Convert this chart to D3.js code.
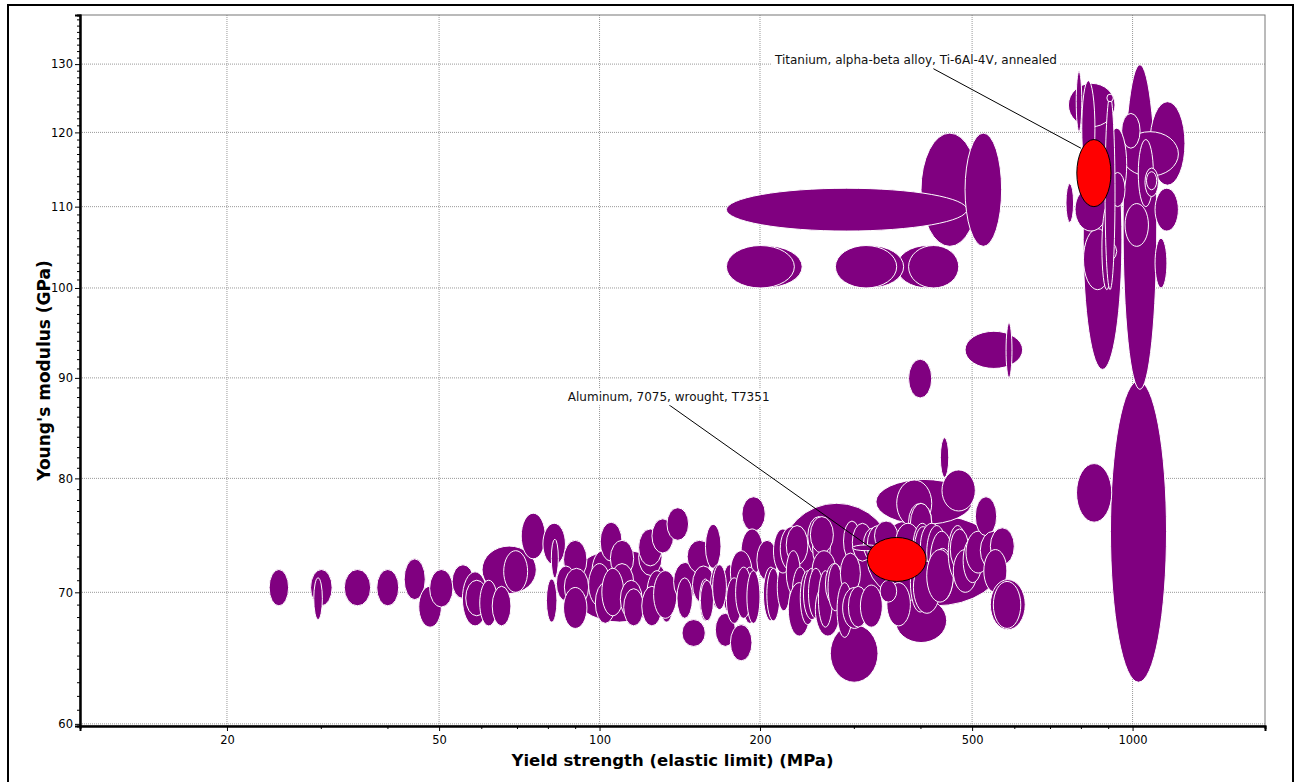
<!DOCTYPE html>
<html>
<head>
<meta charset="utf-8">
<script src="https://cdn.jsdelivr.net/npm/d3@7"></script>
<style>
  body { margin: 0; background: #fff; }
  svg { display: block; }
  text { font-family: "DejaVu Sans", Verdana, sans-serif; }
</style>
</head>
<body>
<div id="chart"></div>
<script>
// each record: [yield low, yield high (MPa), modulus low, modulus high (GPa)]
const aluminumAlloys = [
  [88, 135, 67.6, 73.6], [218, 356, 68.0, 77.7], [318, 572, 68.9, 76.6],
  [330, 500, 75.8, 79.9], [271, 333, 63.0, 67.4], [359, 448, 66.0, 69.5],
  [24.0, 26.1, 68.9, 71.9], [28.7, 31.5, 68.9, 71.9], [29.1, 30.2, 67.8, 71.2],
  [33.2, 37.2, 68.9, 71.9], [38.2, 42.0, 68.9, 71.9], [43.0, 47.1, 69.4, 72.8],
  [45.8, 50.5, 67.2, 70.5], [48.0, 53.1, 68.8, 71.9], [60.2, 76.1, 69.9, 73.9],
  [66.1, 73.3, 70.0, 73.5], [52.9, 58.1, 69.5, 72.3], [55.3, 61.7, 67.3, 71.7],
  [56.1, 61.7, 68.1, 71.0], [59.6, 64.4, 67.3, 71.0], [62.9, 68.2, 67.3, 70.5],
  [71.3, 79.1, 72.8, 76.8], [78.3, 86.3, 72.3, 75.9], [81.2, 83.7, 71.2, 74.5],
  [79.5, 83.2, 67.6, 71.1], [85.6, 94.7, 71.1, 74.4], [83.0, 90.1, 69.3, 72.2],
  [85.9, 95.4, 68.9, 72.0], [85.6, 94.7, 67.1, 70.4], [96.8, 106.3, 70.0, 73.5],
  [100.3, 110.2, 72.6, 76.0], [95.4, 104.8, 68.9, 72.4], [98.2, 107, 67.5, 70.8],
  [104.8, 115.9, 71.3, 74.4], [104.8, 115.9, 69.3, 72.4], [101, 111, 68.1, 72.0],
  [109.4, 120.2, 67.9, 71.0], [111, 121, 67.3, 70.3], [118.4, 131, 71.4, 74.5],
  [118.4, 131, 72.2, 75.4], [125.4, 137.7, 73.3, 76.3], [133.8, 146.9, 74.4, 77.3],
  [122.8, 133.8, 68.2, 71.8], [120, 131, 67.3, 70.5], [129.6, 137.7, 67.6, 71.1],
  [126.3, 139.7, 67.9, 71.8], [137.7, 152.3, 69.3, 72.5], [139.7, 149.4, 67.9, 71.2],
  [142.8, 157.9, 65.7, 67.8], [146, 162.6, 71.6, 74.4], [149.4, 164.3, 69.1, 72.2],
  [154, 162, 67.7, 71.1], [158, 169, 72.0, 75.8], [161.4, 172.3, 68.7, 72.3],
  [164.9, 179.8, 65.7, 68.3], [176, 193.2, 64.6, 67.4], [170, 181, 68.3, 72.3],
  [185, 204.6, 75.2, 78.3], [184.3, 202.8, 71.5, 75.4], [176, 193.2, 69.9, 73.5],
  [185, 198, 67.5, 72.1], [197.3, 215.5, 71.0, 74.4], [203, 216.5, 67.7, 72.1],
  [154.6, 163.6, 67.7, 71.0], [163, 173, 68.6, 72.3], [173, 185, 67.5, 71.2],
  [180, 193, 67.9, 72.1], [189, 200, 67.5, 71.8], [206, 218, 67.7, 72.0],
  [215.5, 228, 68.5, 72.4], [212, 230, 71.6, 75.4], [218.3, 240.7, 71.8, 75.6],
  [224, 246, 72.3, 75.7], [224, 238, 69.9, 73.5], [230, 246, 67.9, 72.1],
  [226, 248.6, 66.5, 70.8], [238, 254, 67.4, 71.8], [241.3, 259.6, 67.8, 72.0],
  [245.8, 271, 73.0, 76.5], [251, 271, 72.0, 75.5], [248.6, 274.6, 73.3, 76.5],
  [250.5, 277.6, 70.1, 73.5], [246.6, 262.9, 67.9, 72.0], [254, 283, 66.5, 70.8],
  [257.4, 273.4, 67.2, 71.8], [265.3, 287, 69.0, 72.4], [268.3, 285.5, 68.5, 72.4],
  [286.9, 308.6, 72.6, 76.1], [298, 325.3, 72.6, 75.9], [283, 308.6, 69.9, 73.3],
  [279, 298, 66.4, 70.8], [285.8, 316.6, 67.1, 70.4], [293, 319, 67.2, 70.5],
  [312.6, 341, 72.6, 75.5], [317.9, 348, 72.3, 75.7], [328, 362.6, 73.5, 76.1],
  [308.6, 339.3, 67.2, 70.6], [298, 336, 73.5, 74.0], [346, 383, 67.3, 70.8],
  [336, 361, 69.2, 71.0], [361, 420, 75.6, 79.85], [439, 507, 77.0, 80.8],
  [436, 452, 80.1, 83.9], [380, 420, 74.4, 77.7], [383, 420, 74.1, 77.7],
  [359, 400, 72.3, 75.9], [387, 420, 71.5, 75.9], [390, 420, 72.0, 75.6],
  [400, 441, 72.0, 75.9], [411, 448, 71.0, 75.7], [383, 417, 68.4, 73.3],
  [388, 436, 68.3, 72.6], [417, 461, 70.0, 75.2], [420, 461, 69.3, 73.7],
  [411, 461, 69.2, 73.6], [451, 489, 71.0, 75.7], [455, 493, 71.9, 75.4],
  [461, 511, 70.0, 73.6], [481, 522, 70.8, 74.6], [487, 541, 71.6, 75.2],
  [507, 556, 74.8, 78.3], [518, 581, 71.9, 75.2], [541, 600, 72.3, 75.5],
  [526, 581, 70.0, 73.6], [541, 629, 67.0, 71.05], [548, 617, 67.1, 70.9]
]

const copperNickelAlloys = [
  [380, 420, 87.9, 92.0], [485, 622, 91.0, 95.05], [579, 594, 90.0, 96.0],
  [401, 514, 105.0, 119.9], [173, 489, 106.9, 112.4], [485, 568, 105.0, 119.9],
  [173, 240, 100.0, 105.1], [173, 232, 100.0, 105.1], [361, 472, 100.0, 105.1],
  [277, 372, 100.0, 105.1], [277, 361, 100.0, 105.1], [380, 472, 100.0, 105.1]
]

const titaniumAlloys = [
  [909, 1158, 63.0, 89.7], [785, 914, 76.0, 81.4], [960, 1110, 88.8, 129.9],
  [808, 955, 90.9, 123.3], [758, 927, 120.8, 127.1], [1078, 1254, 112.8, 124.4],
  [1102, 1219, 106.9, 112.4], [1102, 1160, 100.0, 106.0], [968, 1071, 105.0, 110.4],
  [954, 1219, 114.0, 120.1], [954, 1033, 117.8, 122.7], [1025, 1094, 110.0, 119.0],
  [1055, 1118, 111.3, 115.1], [1062, 1110, 112.2, 114.6], [894, 975, 110.7, 120.6],
  [908, 968, 110.0, 114.5], [809, 934, 102.8, 106.0], [809, 914, 99.8, 107.2],
  [750, 775, 108.0, 113.0], [780, 895, 106.9, 112.5], [876, 914, 99.8, 110.0],
  [784, 803, 120.1, 128.9], [803, 850, 114, 127.5], [888, 927, 99.8, 125.2],
  [895, 920, 124.4, 125.5]
]

// highlighted records and their labels
const highlightNames = ["Aluminum, 7075, wrought, T7351", "Titanium, alpha-beta alloy, Ti-6Al-4V, annealed"]
const highlightRanges = [[318, 410, 70.9, 74.65], [786, 911, 110, 119]]
const labelAnchors = [[134.8, 88.0], [392.3, 130.7]]
const leaderStarts = [[134.6, 87.25], [423, 129.3]]
const leaderEnds = [[324, 73.7], [800, 117.8]]

const xTicks = [20, 50, 100, 200, 500, 1000]
const xMinorTicks = [30, 40, 60, 70, 80, 90, 300, 400, 600, 700, 800, 900]
const yTicks = [60, 70, 80, 90, 100, 110, 120, 130]

const W = 1300, H = 782
const MARGIN = {TOP: 15, BOTTOM: 56, LEFT: 80, RIGHT: 35}

const svg = d3.select("#chart").append("svg")
  .attr("width", W)
  .attr("height", H)

// outer frame
svg.append("rect")
  .attr("x", 8).attr("y", 5)
  .attr("width", 1285).attr("height", 800)
  .attr("fill", "none")
  .attr("stroke", "#000")
  .attr("stroke-width", 2)

const x = d3.scaleLog()
  .domain([10.6, 1772])
  .range([MARGIN.LEFT, W - MARGIN.RIGHT])

const y = d3.scaleLog()
  .domain([59.85, 137.7])
  .range([H - MARGIN.BOTTOM, MARGIN.TOP])

const plot = svg.append("g")

// grid
plot.selectAll(".vgrid").data(xTicks).enter().append("line")
  .attr("x1", d => x(d)).attr("x2", d => x(d))
  .attr("y1", MARGIN.TOP).attr("y2", H - MARGIN.BOTTOM)
  .attr("stroke", "#999").attr("stroke-dasharray", "1,1")
plot.selectAll(".hgrid").data(yTicks).enter().append("line")
  .attr("x1", MARGIN.LEFT).attr("x2", W - MARGIN.RIGHT)
  .attr("y1", d => y(d)).attr("y2", d => y(d))
  .attr("stroke", "#999").attr("stroke-dasharray", "1,1")

// plot border
plot.append("rect")
  .attr("x", MARGIN.LEFT).attr("y", MARGIN.TOP)
  .attr("width", W - MARGIN.LEFT - MARGIN.RIGHT)
  .attr("height", H - MARGIN.TOP - MARGIN.BOTTOM)
  .attr("fill", "none").attr("stroke", "#777")

svg.append("clipPath").attr("id", "clip").append("rect")
  .attr("x", MARGIN.LEFT).attr("y", MARGIN.TOP)
  .attr("width", W - MARGIN.LEFT - MARGIN.RIGHT)
  .attr("height", H - MARGIN.TOP - MARGIN.BOTTOM)

const bubbles = plot.append("g").attr("clip-path", "url(#clip)")

function drawEllipses(data, fill, stroke) {
  bubbles.append("g").selectAll("ellipse")
    .data(data)
    .enter()
    .append("ellipse")
    .attr("cx", d => (x(d[0]) + x(d[1])) / 2)
    .attr("cy", d => (y(d[2]) + y(d[3])) / 2)
    .attr("rx", d => Math.abs(x(d[1]) - x(d[0])) / 2)
    .attr("ry", d => Math.abs(y(d[2]) - y(d[3])) / 2)
    .attr("fill", fill)
    .attr("stroke", stroke)
    .attr("stroke-width", 1)
}

drawEllipses(aluminumAlloys, "#800080", "#fff")
drawEllipses(copperNickelAlloys, "#800080", "#fff")
drawEllipses(titaniumAlloys, "#800080", "#fff")
drawEllipses(highlightRanges, "#ff0000", "#000")

// axes
svg.append("g")
  .attr("transform", `translate(0, ${H - MARGIN.BOTTOM})`)
  .call(d3.axisBottom(x).tickValues(xTicks).tickFormat(d3.format("d")).tickSize(5).tickPadding(5))
svg.append("g")
  .attr("transform", `translate(0, ${H - MARGIN.BOTTOM})`)
  .call(d3.axisBottom(x).tickValues(xMinorTicks).tickFormat("").tickSize(3))

svg.append("g")
  .attr("transform", `translate(${MARGIN.LEFT}, 0)`)
  .call(d3.axisLeft(y).tickValues(yTicks).tickFormat(d3.format("d")).tickSize(5).tickPadding(2))
svg.append("g")
  .attr("transform", `translate(${MARGIN.LEFT}, 0)`)
  .call(d3.axisLeft(y).tickValues(d3.range(60, 138).filter(v => v % 10 !== 0)).tickFormat("").tickSize(3))

svg.selectAll(".domain").attr("stroke", "#000").attr("stroke-width", 2)
svg.selectAll(".tick line").attr("stroke", "#000")
svg.selectAll(".tick text")
  .attr("font-family", "DejaVu Sans, Verdana, sans-serif")
  .attr("font-size", 11.5)
  .attr("fill", "#000")

// axis titles
svg.append("text")
  .attr("x", (MARGIN.LEFT + W - MARGIN.RIGHT) / 2)
  .attr("y", 766)
  .attr("text-anchor", "middle")
  .attr("font-size", 16.5)
  .attr("font-weight", "bold")
  .text("Yield strength (elastic limit) (MPa)")

svg.append("text")
  .attr("transform", `translate(50, ${(MARGIN.TOP + H - MARGIN.BOTTOM) / 2}) rotate(-90)`)
  .attr("text-anchor", "middle")
  .attr("font-size", 17)
  .attr("font-weight", "bold")
  .text("Young's modulus (GPa)")

// annotations
const notes = svg.append("g")
highlightNames.forEach((name, i) => {
  notes.append("line")
    .attr("x1", x(leaderStarts[i][0])).attr("y1", y(leaderStarts[i][1]))
    .attr("x2", x(leaderEnds[i][0])).attr("y2", y(leaderEnds[i][1]))
    .attr("stroke", "#000").attr("stroke-width", 1)
  const g = notes.append("g")
  const t = g.append("text")
    .attr("x", x(labelAnchors[i][0]))
    .attr("y", y(labelAnchors[i][1]))
    .attr("dy", "0.35em")
    .attr("text-anchor", "middle")
    .attr("font-size", 12)
    .attr("fill", "#111")
    .text(name)
  const b = t.node().getBBox()
  g.insert("rect", "text")
    .attr("x", b.x - 3).attr("y", b.y - 1)
    .attr("width", b.width + 6).attr("height", b.height + 2)
    .attr("fill", "#fff")
})
</script>
</body>
</html>
